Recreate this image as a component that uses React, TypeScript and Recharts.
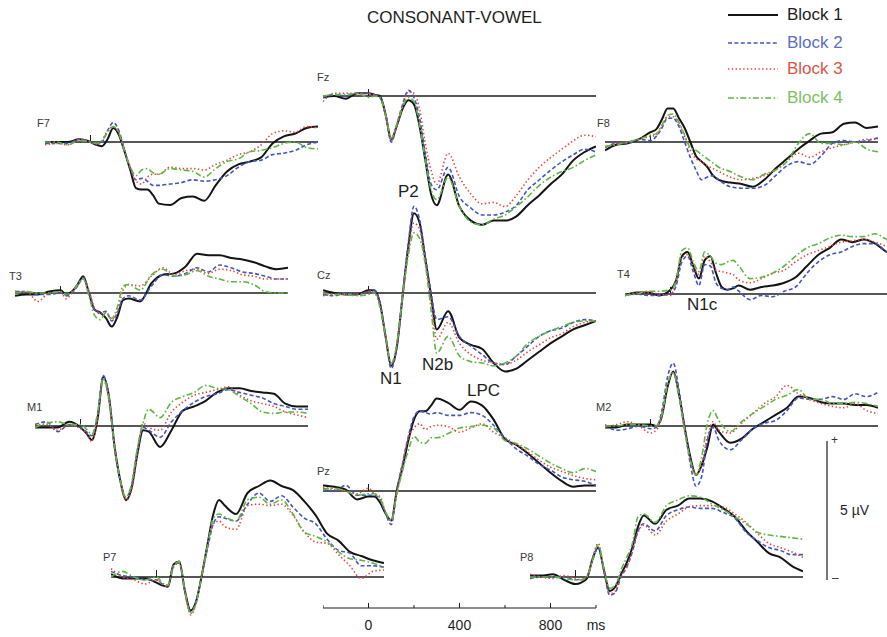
import React from "react"
import { LineChart, Line, XAxis, YAxis, ReferenceLine } from "recharts"

// sample times (ms) shared by every waveform
const times = [-200,-150,-100,-50,0,25,50,75,100,125,150,175,200,225,250,275,300,350,400,450,500,550,600,650,700,750,800,850,900,950,1000]

// amplitudes in µV, positive up
const F7_B1 = [0,0,0,0.1,0,-0.1,-0.15,0.1,0.5,0.25,-0.35,-1.0,-1.65,-1.7,-1.7,-1.9,-2.2,-2.25,-2.0,-1.95,-2.1,-1.55,-1.05,-0.8,-0.7,-0.55,-0.05,0.2,0.3,0.5,0.55]
const F7_B2 = [-0.05,-0.05,-0.05,0.1,0,-0.05,0,0.4,0.7,0.4,-0.3,-0.95,-1.35,-1.3,-1.4,-1.55,-1.55,-1.5,-1.45,-1.35,-1.4,-1.35,-1.2,-0.9,-0.7,-0.65,-0.45,-0.4,-0.3,-0.1,0]
const F7_B3 = [-0.1,-0.05,-0.1,0.1,0,-0.1,0.05,0.4,0.55,0.35,-0.3,-0.9,-1.4,-1.5,-1.25,-1.15,-1.15,-0.9,-0.95,-0.95,-1.0,-0.8,-0.65,-0.45,-0.35,-0.1,0.3,0.4,0.35,0.55,0.5]
const F7_B4 = [0,0,-0.1,0.05,0,-0.05,0.05,0.35,0.55,0.3,-0.35,-0.9,-1.2,-1.0,-0.95,-1.1,-1.15,-0.95,-1.0,-1.05,-1.25,-0.95,-0.7,-0.6,-0.35,-0.3,-0.2,-0.05,0,-0.2,-0.25]

const FZ_B1 = [-0.05,0,-0.1,0.1,0.1,0.05,0,-0.65,-1.55,-1.05,-0.45,-0.15,-0.3,-1.1,-2.3,-3.5,-3.9,-2.8,-3.95,-4.45,-4.6,-4.45,-4.45,-4.3,-3.9,-3.55,-3.15,-2.8,-2.3,-2.0,-1.8]
const FZ_B2 = [-0.05,0.05,0,0.1,0.1,0.05,-0.05,-0.7,-1.65,-1.0,-0.3,0.2,-0.05,-0.8,-2.05,-3.15,-3.35,-2.55,-3.6,-4.0,-4.25,-4.25,-4.15,-3.9,-3.35,-3.0,-2.65,-2.35,-2.1,-1.9,-2.0]
const FZ_B3 = [-0.2,0.1,0.1,0.1,0.1,0.05,-0.05,-0.65,-1.6,-1.05,-0.35,0.15,0.1,-0.5,-1.7,-2.65,-3.15,-2.05,-2.9,-3.5,-3.85,-3.8,-3.95,-3.55,-3.0,-2.55,-2.2,-1.9,-1.6,-1.4,-1.45]
const FZ_B4 = [0,0.05,0.05,0.1,-0.05,0,-0.05,-0.65,-1.5,-1.0,-0.4,-0.05,-0.2,-1.05,-2.3,-3.35,-3.7,-2.9,-3.95,-4.5,-4.6,-4.4,-4.25,-3.95,-3.6,-3.2,-2.9,-2.7,-2.55,-2.3,-2.1]

const F8_B1 = [-0.3,-0.1,-0.05,0.1,0.35,0.45,0.8,1.2,1.2,0.85,0.5,0,-0.5,-0.7,-0.9,-1.2,-1.35,-1.45,-1.5,-1.6,-1.35,-0.95,-0.6,-0.25,0.05,0.3,0.35,0.65,0.7,0.5,0.55]
const F8_B2 = [-0.2,-0.05,-0.05,0.1,0.05,0.2,0.5,0.85,0.85,0.55,0,-0.55,-1.0,-1.35,-1.25,-1.2,-1.35,-1.6,-1.65,-1.65,-1.55,-1.2,-0.85,-0.7,-0.8,-0.5,-0.05,0.05,0,0.05,0.15]
const F8_B3 = [-0.2,-0.05,0,0.1,0.2,0.25,0.55,0.9,0.9,0.65,0.2,-0.3,-0.6,-0.7,-0.85,-0.95,-1.05,-1.25,-1.35,-1.3,-1.2,-1.0,-0.7,-0.4,-0.55,-0.35,-0.2,-0.1,0,0.1,0.1]
const F8_B4 = [-0.15,-0.1,0,0.1,0.25,0.3,0.6,0.95,1.0,0.7,0.25,-0.2,-0.3,-0.45,-0.6,-0.75,-0.9,-1.05,-1.25,-1.35,-1.15,-1.0,-0.7,-0.05,0.3,-0.05,-0.05,-0.1,0,-0.25,-0.35]

const T3_B1 = [-0.1,-0.05,-0.05,0.05,0.1,-0.05,0.05,0.3,0.6,0,-0.6,-0.7,-0.9,-1.2,-0.85,-0.25,-0.2,-0.3,0.35,0.65,0.7,0.95,1.4,1.35,1.35,1.25,1.2,1.1,0.95,0.85,0.9]
const T3_B2 = [0.05,0.05,-0.05,-0.05,0,-0.1,0,0.25,0.55,0.05,-0.6,-0.7,-0.65,-1.0,-0.7,-0.2,-0.1,-0.25,0.25,0.65,0.6,0.7,0.9,0.75,1.0,0.9,0.75,0.7,0.6,0.5,0.5]
const T3_B3 = [0.05,0.05,-0.3,0,0.05,-0.2,0,0.25,0.5,0.1,-0.55,-0.75,-0.7,-0.95,-0.65,0.1,0.3,0.25,0.6,0.9,0.65,0.8,0.85,0.7,0.85,0.8,0.65,0.6,0.5,0.5,0.5]
const T3_B4 = [0,0.05,0,0,0.05,-0.05,0.05,0.3,0.5,-0.1,-0.8,-0.95,-0.7,-0.9,-0.5,0.25,0.3,0.1,0.65,0.85,0.6,0.65,0.8,0.6,0.5,0.4,0.4,0.3,0.05,0,0]

const CZ_B1 = [0.1,0,-0.05,-0.05,0.1,0.1,-0.35,-1.55,-2.6,-1.9,-0.1,1.65,2.85,2.5,1.2,-0.1,-1.3,-0.65,-1.6,-1.85,-2.0,-2.5,-2.8,-2.7,-2.4,-2.1,-1.8,-1.55,-1.3,-1.15,-1.0]
const CZ_B2 = [-0.05,-0.1,0,-0.05,0.05,0.1,-0.35,-1.55,-2.7,-1.9,-0.05,1.8,3.1,2.6,1.3,0,-0.95,-0.85,-1.55,-1.9,-2.2,-2.5,-2.55,-2.25,-1.9,-1.55,-1.35,-1.25,-1.05,-0.95,-1.0]
const CZ_B3 = [-0.1,-0.05,-0.05,-0.05,0.05,0.05,-0.4,-1.55,-2.55,-1.85,-0.1,1.55,2.5,2.25,1.2,-0.25,-1.65,-1.05,-1.8,-2.2,-2.4,-2.5,-2.55,-2.4,-2.1,-1.85,-1.6,-1.45,-1.2,-1.05,-1.0]
const CZ_B4 = [0,-0.05,-0.05,-0.1,-0.05,0,-0.5,-1.55,-2.5,-1.8,-0.1,1.35,2.15,1.95,1.0,-0.6,-2.15,-1.55,-2.25,-2.45,-2.5,-2.6,-2.5,-2.25,-1.8,-1.55,-1.35,-1.2,-1.05,-1.0,-1.0]

const T4_B1 = [-0.05,0.05,0.05,-0.05,0.15,0.5,1.35,1.5,1.0,0.55,1.2,1.35,0.75,0.25,0.15,0.2,0.3,0.15,0.25,0.3,0.4,0.6,1.0,1.4,1.65,1.95,1.85,1.95,1.8,1.5,1.35]
const T4_B2 = [-0.05,0,-0.05,-0.05,0,0.3,1.15,1.35,0.8,0.3,1.05,1.0,0.4,0.2,0.15,0.25,0.1,-0.2,-0.05,-0.1,0.1,0.25,0.75,1.15,1.4,1.5,1.7,1.8,1.8,1.5,1.35]
const T4_B3 = [-0.05,0.05,0.05,0,-0.05,0.45,1.3,1.4,1.0,0.7,1.35,1.15,0.85,0.8,0.75,0.7,0.5,0.4,0.55,0.75,0.85,1.15,1.4,1.55,1.7,1.85,1.9,1.95,1.85,1.7,1.55]
const T4_B4 = [-0.05,0,0.1,0.1,0.15,0.5,1.55,1.65,1.15,0.8,1.5,1.35,1.1,1.05,1.15,1.2,1.0,0.55,0.6,0.75,1.0,1.35,1.65,1.8,2.0,2.1,2.05,2.05,2.15,1.95,1.75]

const M1_B1 = [-0.05,-0.05,-0.05,0.15,-0.05,-0.25,-0.5,0.25,1.75,1.05,-0.75,-1.95,-2.65,-2.2,-1.0,-0.15,-0.2,-0.75,-0.15,0.55,0.7,0.9,1.2,1.35,1.35,1.25,1.2,1.15,0.8,0.7,0.7]
const M1_B2 = [0.05,0.15,-0.2,0.05,-0.05,-0.2,-0.35,0.4,1.8,1.05,-0.75,-1.95,-2.55,-2.1,-0.85,-0.05,-0.15,-0.4,0.15,0.55,0.85,1.05,1.15,1.3,1.2,1.1,1.0,0.8,0.7,0.6,0.6]
const M1_B3 = [0.05,0.05,-0.15,0.05,-0.1,-0.25,-0.55,0.25,1.65,0.9,-0.8,-2.0,-2.65,-2.25,-1.0,0.1,-0.05,-0.15,0.5,0.85,1.1,1.2,1.3,1.4,1.1,0.9,0.8,0.7,0.5,0.4,0.3]
const M1_B4 = [-0.05,0.1,0.15,0.05,0.05,-0.1,-0.3,0.45,1.7,1.0,-0.75,-1.95,-2.55,-2.05,-0.8,0.1,0.6,0.3,0.85,1.05,1.2,1.45,1.35,1.3,1.05,0.8,0.5,0.45,0.5,0.5,0.45]

const PZ_B1 = [0.2,0.15,0.05,-0.3,-0.2,-0.2,-0.4,-0.8,-1.05,0.05,0.85,1.8,2.55,2.85,2.85,3.05,3.3,3.15,2.9,3.2,3.05,2.55,1.85,1.65,1.35,1.0,0.65,0.35,0.15,0.2,0.2]
const PZ_B2 = [0.1,0,0.2,-0.15,-0.15,-0.15,-0.3,-0.8,-1.2,0.05,1.0,1.95,2.65,2.85,2.8,2.75,2.8,2.7,2.7,2.8,2.7,2.35,1.9,1.5,1.25,0.95,0.75,0.5,0.4,0.35,0.2]
const PZ_B3 = [0.15,0.05,0,-0.1,0.1,-0.1,-0.2,-0.75,-1.05,0.05,1.0,1.9,2.25,2.4,2.2,2.3,2.35,2.3,2.1,2.25,2.4,2.1,1.9,1.65,1.4,1.1,0.85,0.7,0.55,0.45,0.4]
const PZ_B4 = [0.05,0.1,0,-0.15,-0.1,-0.1,-0.25,-0.75,-1.05,-0.1,0.75,1.45,1.95,1.75,1.7,1.9,1.9,2.05,2.25,2.3,2.35,2.25,1.8,1.7,1.5,1.25,1.0,0.8,0.65,0.8,0.7]

const M2_B1 = [-0.05,-0.05,0.05,0.05,0.05,0,0.35,1.4,1.95,1.15,-0.05,-1.1,-1.75,-1.4,-0.75,0.05,-0.2,-0.6,-0.45,-0.1,0.15,0.4,0.65,1.05,1.0,0.85,0.8,0.8,0.75,0.75,0.65]
const M2_B2 = [0.05,-0.15,-0.1,0,-0.1,-0.05,0.55,1.75,2.25,1.3,-0.05,-1.35,-2.15,-1.8,-0.5,-0.05,-0.5,-0.85,-0.5,-0.1,0.1,0.2,0.55,1.0,0.95,0.95,1.05,0.95,1.15,1.05,1.2]
const M2_B3 = [-0.05,0.05,0.15,0,-0.25,-0.15,0.35,1.5,1.9,1.05,-0.15,-1.2,-1.75,-1.35,-0.4,0.15,-0.15,-0.25,0.1,0.45,0.8,1.05,1.45,1.15,0.95,0.8,0.7,0.65,0.8,0.55,0.45]
const M2_B4 = [0,0,0.05,0.05,0,0,0.4,1.5,1.9,1.1,-0.15,-1.2,-1.75,-1.1,0.1,0.55,0.2,-0.2,0.15,0.45,0.7,0.95,1.1,1.3,0.95,0.95,0.8,0.8,0.85,0.8,0.7]

const P7_B1 = [0.1,-0.05,-0.05,-0.05,-0.2,-0.3,-0.35,0.45,0.55,-0.5,-1.2,-0.85,0.1,1.2,2.25,2.75,2.55,2.25,3.0,3.25,3.45,3.25,3.1,2.7,2.2,1.55,1.3,0.9,0.75,0.6,0.5]
const P7_B2 = [0.2,0.05,0,-0.1,-0.1,-0.25,-0.3,0.4,0.5,-0.55,-1.25,-0.85,0.1,1.05,1.9,2.15,2.1,2.0,2.6,3.0,2.7,2.9,2.5,2.1,1.9,1.35,0.95,0.85,0.4,0.4,0.35]
const P7_B3 = [0.3,0,-0.1,-0.25,-0.1,-0.25,-0.35,0.35,0.5,-0.55,-1.35,-0.9,0.1,1.15,1.9,2.0,1.8,1.7,2.55,2.6,2.55,2.6,2.2,1.6,1.25,1.2,0.8,0.4,-0.05,0.2,0.25]
const P7_B4 = [0,0.2,0,-0.1,0,-0.2,-0.3,0.4,0.55,-0.5,-1.3,-0.9,0.1,1.15,2.1,2.25,2.15,2.0,2.75,2.85,2.6,2.75,2.25,1.6,1.45,1.25,0.9,0.65,0.6,0.5,0.35]

const P8_B1 = [0.05,0.05,0.1,-0.1,-0.25,-0.2,-0.05,0.65,1.05,0.25,-0.5,-0.35,0.1,0.5,1.05,1.8,2.2,1.9,2.4,2.55,2.8,2.8,2.7,2.45,2.15,1.65,1.25,0.85,0.7,0.4,0.2]
const P8_B2 = [-0.05,0,0,0,-0.1,-0.1,0,0.6,1.05,0.2,-0.65,-0.55,0,0.35,0.9,1.65,1.9,1.65,2.2,2.4,2.5,2.45,2.45,2.3,2.1,1.6,1.3,1.05,0.95,0.8,0.8]
const P8_B3 = [0.1,0,-0.05,0.05,-0.05,-0.1,0.05,0.7,1.2,0.25,-0.6,-0.5,0.05,0.35,0.95,1.6,1.85,1.5,2.0,2.25,2.5,2.55,2.55,2.5,2.25,1.95,1.55,1.2,1.05,0.9,0.7]
const P8_B4 = [0,0,0,-0.05,-0.1,-0.1,0,0.6,1.15,0.3,-0.4,-0.3,0.25,0.7,1.2,2.15,2.25,1.95,2.55,2.75,2.9,2.85,2.6,2.4,2.15,1.9,1.6,1.5,1.45,1.4,1.35]

const axisTicks = [-200,0,200,400,600,800,1000]
const scaleBarUv = [0,5]

const FONT = "'Liberation Sans', Arial, Helvetica, sans-serif"
const PX_PER_UV = 28
const HALF = 150
const PANEL_W = 273

const BLOCKS = [
  { key:"b1", name:"Block 1", color:"#141414", text:"#1e1e1e", width:2, dash:undefined },
  { key:"b2", name:"Block 2", color:"#4256c2", text:"#5c6dc8", width:1.6, dash:"4 2.4" },
  { key:"b3", name:"Block 3", color:"#e4453a", text:"#e05446", width:1.6, dash:"1.4 2.4" },
  { key:"b4", name:"Block 4", color:"#5fb743", text:"#7cc160", width:1.6, dash:"6 2.4 1.6 2.4" },
]

const PANELS = [
  { name:"F7", x:45, base:142, lx:37, ly:118, s:[F7_B1,F7_B2,F7_B3,F7_B4] },
  { name:"Fz", x:323, base:96, lx:317, ly:72, s:[FZ_B1,FZ_B2,FZ_B3,FZ_B4] },
  { name:"F8", x:605, base:142, lx:597, ly:118, s:[F8_B1,F8_B2,F8_B3,F8_B4] },
  { name:"T3", x:15, base:293, lx:9, ly:271, s:[T3_B1,T3_B2,T3_B3,T3_B4] },
  { name:"Cz", x:323, base:293, lx:317, ly:270, s:[CZ_B1,CZ_B2,CZ_B3,CZ_B4] },
  { name:"T4", x:624.5, base:294, lx:617, ly:269, s:[T4_B1,T4_B2,T4_B3,T4_B4] },
  { name:"M1", x:34.5, base:426, lx:27, ly:402, s:[M1_B1,M1_B2,M1_B3,M1_B4] },
  { name:"Pz", x:323, base:491, lx:317, ly:466, s:[PZ_B1,PZ_B2,PZ_B3,PZ_B4] },
  { name:"M2", x:604.5, base:426, lx:596, ly:402, s:[M2_B1,M2_B2,M2_B3,M2_B4] },
  { name:"P7", x:111, base:577, lx:103, ly:552, s:[P7_B1,P7_B2,P7_B3,P7_B4] },
  { name:"P8", x:529.5, base:577, lx:520, ly:552, s:[P8_B1,P8_B2,P8_B3,P8_B4] },
]

const COMPONENTS = [
  { text:"P2", x:398, y:183 },
  { text:"N1", x:380, y:370 },
  { text:"N2b", x:422, y:356 },
  { text:"LPC", x:467, y:382 },
  { text:"N1c", x:687, y:296 },
]

function Panel({ p }: any) {
  const data = times.map((t, i) => ({ t, b1:p.s[0][i], b2:p.s[1][i], b3:p.s[2][i], b4:p.s[3][i] }))
  const lim = HALF / PX_PER_UV
  return (
    <div style={{ position:"absolute", left:p.x, top:p.base - HALF }}>
      <LineChart width={PANEL_W} height={HALF * 2} data={data} margin={{ top:0, right:0, bottom:0, left:0 }}>
        <XAxis dataKey="t" type="number" domain={[-200,1000]} hide />
        <YAxis type="number" domain={[-lim, lim]} hide allowDataOverflow />
        <ReferenceLine y={0} stroke="#1e1e1e" strokeWidth={1.3} />
        <ReferenceLine segment={[{ x:0, y:0 }, { x:0, y:0.25 }]} stroke="#1e1e1e" strokeWidth={1} />
        {BLOCKS.map(b => (
          <Line key={b.key} dataKey={b.key} type="monotone" stroke={b.color} strokeWidth={b.width}
            strokeDasharray={b.dash} dot={false} isAnimationActive={false} />
        ))}
      </LineChart>
    </div>
  )
}

const TimeTick = ({ x, y, payload }: any) => {
  const v = payload.value
  const major = v === 0 || v === 400 || v === 800
  const label = v === 1000 ? "ms" : major ? String(v) : ""
  return (
    <g>
      <line x1={x} x2={x} y1={y} y2={y - (major ? 5 : 3)} stroke="#1e1e1e" strokeWidth={1} />
      <text x={x} y={y + 22} textAnchor="middle" fontSize={14} fill="#1e1e1e" fontFamily={FONT}>{label}</text>
    </g>
  )
}

export default function App() {
  const axisData = axisTicks.map(t => ({ t }))
  const barData = scaleBarUv.map((v, i) => ({ i, v }))
  return (
    <div style={{ position:"absolute", left:0, top:0, width:887, height:637, overflow:"hidden", background:"#fff", fontFamily:FONT }}>
      <div style={{ position:"absolute", left:367, top:9, fontSize:17, lineHeight:1, color:"#1e1e1e", whiteSpace:"nowrap" }}>CONSONANT-VOWEL</div>

      {PANELS.map(p => <Panel key={p.name} p={p} />)}

      {PANELS.map(p => (
        <div key={p.name + "l"} style={{ position:"absolute", left:p.lx, top:p.ly, fontSize:11, lineHeight:1, color:"#3a3a3a" }}>{p.name}</div>
      ))}

      {COMPONENTS.map(c => (
        <div key={c.text} style={{ position:"absolute", left:c.x, top:c.y, fontSize:17, lineHeight:1, color:"#1e1e1e" }}>{c.text}</div>
      ))}

      {BLOCKS.map((b, i) => (
        <div key={b.key} style={{ position:"absolute", left:728, top:[6, 34, 60, 89][i], display:"flex", alignItems:"center", height:17 }}>
          <svg width={50} height={6} style={{ display:"block" }}>
            <line x1={0} x2={50} y1={3} y2={3} stroke={b.color} strokeWidth={b.width} strokeDasharray={b.dash} />
          </svg>
          <span style={{ marginLeft:9, fontSize:17, lineHeight:1, color:b.text }}>{b.name}</span>
        </div>
      ))}

      <div style={{ position:"absolute", left:323, top:598 }}>
        <LineChart width={PANEL_W + 30} height={40} data={axisData} margin={{ top:0, right:30, bottom:0, left:0 }}>
          <XAxis dataKey="t" type="number" domain={[-200,1000]} ticks={axisTicks} interval={0} height={30}
            tickSize={0} tickMargin={0} tickLine={false} axisLine={{ stroke:"#1e1e1e", strokeWidth:1.2 }} tick={<TimeTick />} />
          <YAxis hide domain={[0,1]} />
        </LineChart>
      </div>

      <div style={{ position:"absolute", left:817, top:431 }}>
        <LineChart width={70} height={159} data={barData} margin={{ top:10, right:0, bottom:10, left:0 }}>
          <XAxis dataKey="i" hide />
          <YAxis type="number" domain={[0,5]} ticks={[0,5]} width={10} tick={false}
            tickLine={false} axisLine={{ stroke:"#555", strokeWidth:1.6 }} />
        </LineChart>
      </div>
      <div style={{ position:"absolute", left:831, top:434, fontSize:12, lineHeight:1, color:"#333" }}>+</div>
      <div style={{ position:"absolute", left:832, top:572, fontSize:12, lineHeight:1, color:"#333" }}>–</div>
      <div style={{ position:"absolute", left:840, top:503, fontSize:14, lineHeight:1, color:"#1e1e1e", whiteSpace:"nowrap" }}>5 µV</div>
    </div>
  )
}
